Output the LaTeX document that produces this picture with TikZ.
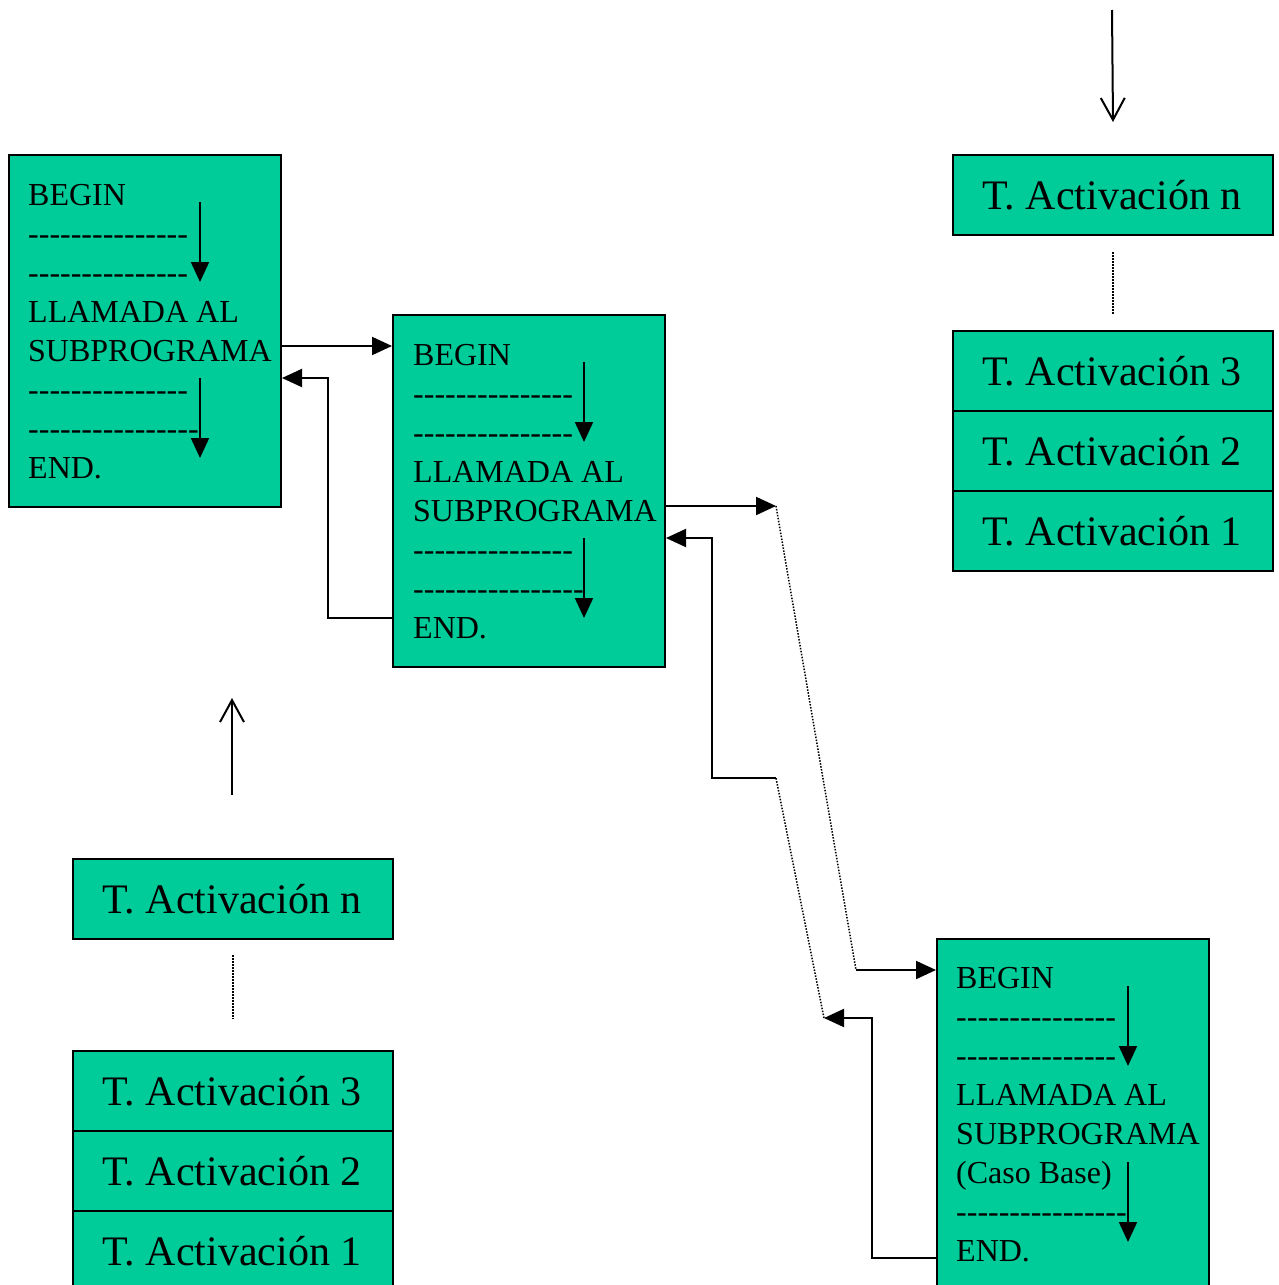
\documentclass[tikz,border=0pt]{standalone}
\usepackage{fontspec}
\setmainfont{Liberation Serif}
\usetikzlibrary{arrows.meta}
\definecolor{boxgreen}{RGB}{0,204,153}
\def\hy{\mbox{-}}
\def\dfif{\hy\hy\hy\hy\hy\hy\hy\hy\hy\hy\hy\hy\hy\hy\hy}
\def\dsix{\dfif\hy}
\begin{document}
\begin{tikzpicture}[x=1pt,y=-1pt,
  prog/.style={draw, line width=2pt, fill=boxgreen, rectangle, anchor=north west, minimum width=272pt, minimum height=352pt, inner sep=0pt},
  act/.style={draw, line width=2pt, fill=boxgreen, rectangle, anchor=north west, minimum width=320pt, minimum height=80pt, inner sep=0pt},
  ptext/.style={anchor=base west, inner sep=0pt, font=\fontsize{32}{39}\selectfont},
  atext/.style={anchor=base, inner sep=0pt, font=\fontsize{42}{50}\selectfont},
  flow/.style={line width=2pt, -{Triangle[length=20pt,width=18pt]}},
  inarrow/.style={line width=2pt, -{Triangle[length=20pt,width=18pt]}},
  openarrow/.style={line width=2pt, -{Straight Barb[length=22pt,width=24pt]}},
  dotline/.style={line width=1.5pt, dash pattern=on 1.5pt off 1.5pt}
]
\useasboundingbox (0,0) rectangle (1278,1285);

% program boxes
\node[prog] (b1) at (8,154) {};
\node[prog] (b2) at (392,314) {};
\node[prog] (b3) at (936,938) {};

\node[ptext] (t1) at (28,205) {\begin{tabular}[t]{@{}l@{}}BEGIN\\ \dfif\\ \dfif\\ LLAMADA AL\\ SUBPROGRAMA\\ \dfif\\ \dsix\\ END.\end{tabular}};
\node[ptext] (t2) at (413,365) {\begin{tabular}[t]{@{}l@{}}BEGIN\\ \dfif\\ \dfif\\ LLAMADA AL\\ SUBPROGRAMA\\ \dfif\\ \dsix\\ END.\end{tabular}};
\node[ptext] (t3) at (956,988) {\begin{tabular}[t]{@{}l@{}}BEGIN\\ \dfif\\ \dfif\\ LLAMADA AL\\ SUBPROGRAMA\\ (Caso Base)\\ \dsix\\ END.\end{tabular}};

% inner flow arrows
\draw[inarrow] (200,202) -- (200,282);
\draw[inarrow] (200,378) -- (200,458);
\draw[inarrow] (584,362) -- (584,442);
\draw[inarrow] (584,538) -- (584,618);
\draw[inarrow] (1128,986) -- (1128,1066);
\draw[inarrow] (1128,1162) -- (1128,1242);

% stacks top right
\node[act] (rn) at (952,154) {};
\node[act] (r3) at (952,330) {};
\node[act] (r2) at (952,410) {};
\node[act] (r1) at (952,490) {};
\node[atext] at (1112,209) {T. Activación n};
\node[atext] at (1112,385) {T. Activación 3};
\node[atext] at (1112,465) {T. Activación 2};
\node[atext] at (1112,545) {T. Activación 1};
\draw[dotline] (rn.south) ++(0,16) -- ++(0,62);
\coordinate (rtop) at (1112,10);
\draw[openarrow] (rtop) -- (rn.north |- 0,122);

% stack bottom left
\node[act] (ln) at (72,858) {};
\node[act] (l3) at (72,1050) {};
\node[act] (l2) at (72,1130) {};
\node[act] (l1) at (72,1210) {};
\node[atext] at (232,913) {T. Activación n};
\node[atext] at (232,1105) {T. Activación 3};
\node[atext] at (232,1185) {T. Activación 2};
\node[atext] at (232,1265) {T. Activación 1};
\draw[dotline] (ln.south) ++(0,15) -- ++(0,64);
\coordinate (lbot) at (232,795);
\draw[openarrow] (lbot) -- (232,698);

% connectors
\draw[flow] (b1.east |- 0,346) -- (b2.west |- 0,346);
\draw[flow] (b2.west |- 0,618) -- (328,618) -- (328,378) -- (b1.east |- 0,378);
\coordinate (c1) at (776,506);
\coordinate (c2) at (856,970);
\coordinate (c3) at (824,1018);
\coordinate (c4) at (776,778);
\draw[flow] (b2.east |- c1) -- (c1);
\draw[dotline] (c1) -- (c2);
\draw[flow] (c2) -- (b3.west |- c2);
\draw[flow] (b3.west |- 0,1258) -- (872,1258) -- (872,1018) -- (c3);
\draw[dotline] (c3) -- (c4);
\draw[flow] (c4) -- (712,778) -- (712,538) -- (b2.east |- 0,538);
\end{tikzpicture}
\end{document}
